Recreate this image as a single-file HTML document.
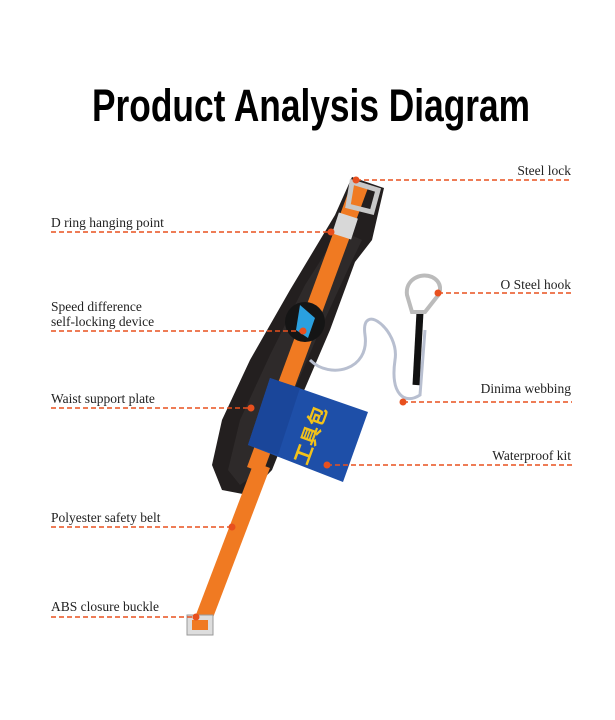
<!DOCTYPE html>
<html><head><meta charset="utf-8"><style>
html,body{margin:0;padding:0;background:#fff}
svg{display:block}
.l{font-family:"Liberation Serif","DejaVu Serif",serif;font-size:13.5px;fill:#222}
</style></head><body>
<svg width="615" height="720" viewBox="0 0 615 720" xmlns="http://www.w3.org/2000/svg">
<text x="311" y="121" text-anchor="middle" font-family="'Liberation Sans Narrow','Liberation Sans',sans-serif" font-weight="bold" font-size="45" fill="#000" textLength="438" lengthAdjust="spacingAndGlyphs">Product Analysis Diagram</text>

<!-- pad -->
<polygon points="352,177 384,188 372,240 355,262 330,330 300,400 272,470 248,495 222,490 212,465 222,420 250,360 290,290 320,240 335,215" fill="#231f1f"/>
<polygon points="340,230 362,240 350,265 320,330 290,400 262,470 240,485 228,470 240,420 270,355 305,285" fill="#2e2a2a"/>
<!-- strap -->
<line x1="360" y1="185" x2="255" y2="470" stroke="#f07a22" stroke-width="17"/>
<line x1="262" y1="465" x2="200" y2="628" stroke="#f07a22" stroke-width="17"/>
<!-- steel lock -->
<path d="M352,182 L378,190 L372,212 L348,206 Z" fill="none" stroke="#c8c8c8" stroke-width="5"/>
<!-- D ring -->
<rect x="335" y="215" width="20" height="22" fill="#d8d8d8" transform="rotate(18 345 226)"/>
<!-- device -->
<circle cx="305" cy="322" r="20" fill="#151515"/>
<path d="M300,305 L315,318 L308,338 L296,330 Z" fill="#2aa0df"/>
<!-- bottom buckle -->
<rect x="187" y="615" width="26" height="20" fill="#ddd" stroke="#999"/>
<rect x="192" y="620" width="16" height="10" fill="#f07a22"/>
<!-- cord -->
<path d="M310,360 C330,380 370,370 365,335 C360,300 400,330 395,360 C390,395 405,405 420,395 L425,330" fill="none" stroke="#b8bfd0" stroke-width="3"/>
<line x1="420" y1="312" x2="416" y2="385" stroke="#111" stroke-width="7"/>
<!-- carabiner -->
<path d="M412,312 L407,295 C405,280 420,272 432,277 C442,282 442,292 436,298 L425,312 Z" fill="none" stroke="#bbb" stroke-width="4"/>
<!-- pouch -->
<polygon points="270,378 368,412 343,482 248,445" fill="#1e4fa8"/>
<polygon points="270,378 300,388 278,455 248,445" fill="#1a469a"/>
<text x="0" y="0" transform="translate(307,466) rotate(-70)" font-family="'Noto Sans CJK SC',sans-serif" font-weight="bold" font-size="20" fill="#f2c21a">工具包</text>

<g stroke="#e8501e" stroke-width="1.5" stroke-dasharray="5,3" fill="none">
<line x1="356" y1="180" x2="572" y2="180"/>
<line x1="51" y1="232" x2="331" y2="232"/>
<line x1="438" y1="293" x2="572" y2="293"/>
<line x1="51" y1="331" x2="303" y2="331"/>
<line x1="403" y1="402" x2="572" y2="402"/>
<line x1="51" y1="408" x2="251" y2="408"/>
<line x1="327" y1="465" x2="572" y2="465"/>
<line x1="51" y1="527" x2="232" y2="527"/>
<line x1="51" y1="617" x2="196" y2="617"/>
</g>
<g fill="#e8501e">
<circle cx="356" cy="180" r="3.5"/><circle cx="331" cy="232" r="3.5"/><circle cx="438" cy="293" r="3.5"/>
<circle cx="303" cy="331" r="3.5"/><circle cx="403" cy="402" r="3.5"/><circle cx="251" cy="408" r="3.5"/>
<circle cx="327" cy="465" r="3.5"/><circle cx="232" cy="527" r="3.5"/><circle cx="196" cy="617" r="3.5"/>
</g>
<text class="l" x="571" y="175" text-anchor="end">Steel lock</text>
<text class="l" x="51" y="227">D ring hanging point</text>
<text class="l" x="571" y="289" text-anchor="end">O Steel hook</text>
<text class="l" x="51" y="311">Speed difference</text>
<text class="l" x="51" y="326">self-locking device</text>
<text class="l" x="571" y="393" text-anchor="end">Dinima webbing</text>
<text class="l" x="51" y="403">Waist support plate</text>
<text class="l" x="571" y="460" text-anchor="end">Waterproof kit</text>
<text class="l" x="51" y="522">Polyester safety belt</text>
<text class="l" x="51" y="611">ABS closure buckle</text>
</svg>
</body></html>
